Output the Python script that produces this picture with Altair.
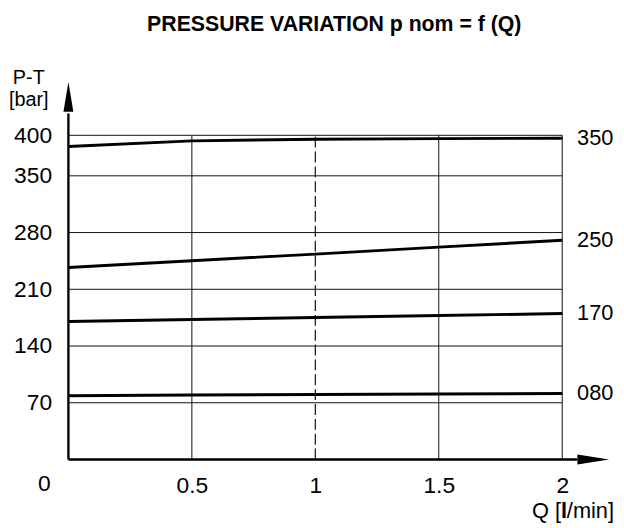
import altair as alt
import pandas as pd

# ---- data ----
Q = [0, 0.5, 1, 1.5, 2]
p350 = [386.2, 393.1, 395.2, 395.9, 396.4]
p250 = [237.0, 245.3, 253.4, 262.0, 270.5]
p170 = [170.3, 172.8, 175.2, 177.6, 180.1]
p080 = [78.7, 79.5, 80.3, 80.9, 81.5]
series_labels = ["350", "250", "170", "080"]

y_ticks = [70, 140, 210, 280, 350, 400]
x_ticks = [0.5, 1, 1.5, 2]
x_solid_grid = [0.5, 1.5, 2]
x_dashed_grid = [1]
x_axis_end = 2.061    # where the x arrowhead starts
y_axis_end = 427      # where the y arrowhead starts
x_arrow_mid = 2.1255
y_arrow_mid = 447.5

title_text = "PRESSURE VARIATION p nom = f (Q)"
y_title = ["P-T", "[bar]"]
x_title = ["Q [", "l", "/min]"]

FONT = "Liberation Sans"
W, H = 498.7, 327.4

xs = alt.Scale(domain=[0, 2], nice=False, zero=False)
ys = alt.Scale(domain=[0, 400], nice=False, zero=False)
x_axis = alt.Axis(values=x_ticks, grid=False, domain=False, ticks=False, tickSize=0,
                  labelFontSize=23, labelPadding=15, labelColor="black", labelFont=FONT,
                  title=None, labelFlush=False, format="~g")
y_axis = alt.Axis(values=y_ticks, grid=False, domain=False, ticks=False, tickSize=0,
                  labelFontSize=23, labelPadding=17, labelColor="black", labelFont=FONT,
                  title=None)

def X(f="Q"):
    return alt.X(f, type="quantitative", scale=xs, axis=x_axis)

def Y(f="P"):
    return alt.Y(f, type="quantitative", scale=ys, axis=y_axis)

# curves
rows = []
for lab, vals in zip(series_labels, [p350, p250, p170, p080]):
    for q, p in zip(Q, vals):
        rows.append({"series": lab, "Q": q, "P": p})
curves_df = pd.DataFrame(rows)
ends_df = pd.DataFrame([{"series": lab, "Q": Q[-1], "P": vals[-1]}
                        for lab, vals in zip(series_labels, [p350, p250, p170, p080])])

hgrid_df = pd.DataFrame({"P": y_ticks, "Q": [0] * len(y_ticks), "Q2": [2] * len(y_ticks)})
vgrid_df = pd.DataFrame({"Q": x_solid_grid, "P": [0] * len(x_solid_grid), "P2": [400] * len(x_solid_grid)})
vdash_df = pd.DataFrame({"Q": x_dashed_grid, "P": [0], "P2": [400]})
axes_df = pd.DataFrame({"Q": [0, 0], "Q2": [x_axis_end, 0], "P": [0, 0], "P2": [0, y_axis_end]})

hgrid = alt.Chart(hgrid_df).mark_rule(color="#111", strokeWidth=1).encode(
    x=X(), x2="Q2", y=Y())
vgrid = alt.Chart(vgrid_df).mark_rule(color="#111", strokeWidth=1).encode(
    x=X(), y=Y(), y2="P2")
vdash = alt.Chart(vdash_df).mark_rule(color="#111", strokeWidth=1.2, strokeDash=[11, 4]).encode(
    x=X(), y=Y(), y2="P2")
curves = alt.Chart(curves_df).mark_line(color="black", strokeWidth=3).encode(
    x=X(), y=Y(), detail="series:N")
end_labels = alt.Chart(ends_df).mark_text(
    align="left", baseline="middle", dx=15, fontSize=22, font=FONT, color="black").encode(
    x=X(), y=Y(), text="series:N")
axes = alt.Chart(axes_df).mark_rule(color="black", strokeWidth=2.4).encode(
    x=X(), x2="Q2", y=Y(), y2="P2")
yarrow = alt.Chart(pd.DataFrame({"Q": [0], "P": [y_arrow_mid]})).mark_point(
    shape="M0,-1L0.333,1L-0.333,1Z", size=900, filled=True, color="black", opacity=1,
    strokeWidth=0).encode(x=X(), y=Y())
xarrow = alt.Chart(pd.DataFrame({"Q": [x_arrow_mid], "P": [0]})).mark_point(
    shape="M1,0L-1,0.3125L-1,-0.3125Z", size=1024, filled=True, color="black", opacity=1,
    strokeWidth=0).encode(x=X(), y=Y())
zero_label = alt.Chart(pd.DataFrame({"Q": [0], "P": [0], "t": ["0"]})).mark_text(
    align="right", baseline="alphabetic", dx=-18, dy=32.3, fontSize=23, font=FONT,
    color="black").encode(x=X(), y=Y(), text="t:N")

title = alt.Chart(pd.DataFrame({"t": [title_text]})).mark_text(
    x=268.5, y=-105.7, align="center", baseline="alphabetic", fontSize=21.5,
    fontWeight="bold", font=FONT, color="black").encode(text="t:N")
pt = alt.Chart(pd.DataFrame({"t": [y_title[0]]})).mark_text(
    x=-40, y=-52, align="center", baseline="alphabetic", fontSize=20, font=FONT,
    color="black").encode(text="t:N")
bar = alt.Chart(pd.DataFrame({"t": [y_title[1]]})).mark_text(
    x=-40, y=-30, align="center", baseline="alphabetic", fontSize=20, font=FONT,
    color="black").encode(text="t:N")
q1 = alt.Chart(pd.DataFrame({"t": [x_title[0]]})).mark_text(
    x=497.6, y=386, align="right", baseline="alphabetic", fontSize=22, font=FONT,
    color="black").encode(text="t:N")
q2 = alt.Chart(pd.DataFrame({"t": [x_title[1]]})).mark_text(
    x=503.7, y=386, align="right", baseline="alphabetic", fontSize=22, font=FONT,
    fontWeight="bold", color="black").encode(text="t:N")
q3 = alt.Chart(pd.DataFrame({"t": [x_title[2]]})).mark_text(
    x=551, y=386, align="right", baseline="alphabetic", fontSize=22, font=FONT,
    color="black").encode(text="t:N")

chart = alt.layer(
    hgrid, vgrid, vdash, curves, end_labels, axes, yarrow, xarrow, zero_label,
    title, pt, bar, q1, q2, q3
).properties(
    width=W, height=H,
    padding={"left": 61, "top": 126, "right": 54.3, "bottom": 62.6},
    autosize=alt.AutoSizeParams(type="none"),
    background="white",
).configure_view(strokeWidth=0)

chart.save("out.html", embed_options={"renderer": "svg", "actions": False})
